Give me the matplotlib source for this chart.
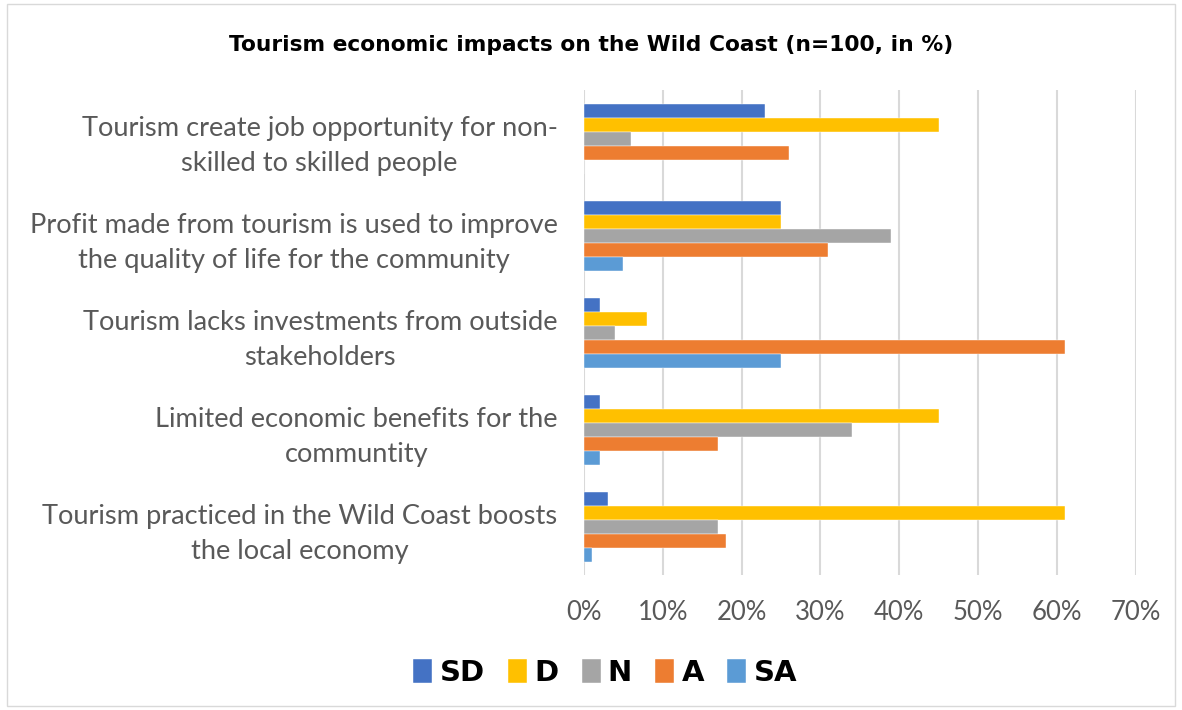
import matplotlib.pyplot as plt
from matplotlib.patches import Rectangle

categories = [
    "Tourism create job opportunity for non-\nskilled to skilled people",
    "Profit made from tourism is used to improve\nthe quality of life for the community",
    "Tourism lacks investments from outside\nstakeholders",
    "Limited economic benefits for the\ncommuntity",
    "Tourism practiced in the Wild Coast boosts\nthe local economy",
]
series_names = ["SD", "D", "N", "A", "SA"]
sd = [23, 25, 2, 2, 3]
d = [45, 25, 8, 45, 61]
n = [6, 39, 4, 34, 17]
a = [26, 31, 61, 17, 18]
sa = [0, 5, 25, 2, 1]
colors = ["#4472c4", "#ffc000", "#a5a5a5", "#ed7d31", "#5b9bd5"]

fig = plt.figure(figsize=(11.82, 7.1), dpi=100)
ax = fig.add_axes([0.494, 0.19, 0.467, 0.683])

series = [sd, d, n, a, sa]
bar_h = 0.144
for j, (name, vals, col) in enumerate(zip(series_names, series, colors)):
    ys = [i + (j - 2) * bar_h for i in range(len(categories))]
    ax.barh(ys, [v / 100 for v in vals], height=bar_h, color=col, label=name,
            edgecolor="white", linewidth=0.3, zorder=3)

ax.set_ylim(len(categories) - 0.5, -0.5)
ax.set_xlim(0, 0.7)
ax.set_xticks([i / 10 for i in range(8)])
ax.set_xticklabels([f"{i * 10}%" for i in range(8)], fontsize=18.5, color="#595959",
                   family="Lato")
ax.set_yticks(range(len(categories)))
ax.set_yticklabels(categories, fontsize=19.6, color="#595959", multialignment="center",
                   family="Lato", linespacing=1.5)
ax.tick_params(axis="both", length=0)
ax.tick_params(axis="x", pad=18)
ax.tick_params(axis="y", pad=19)
ax.grid(axis="x", color="#d9d9d9", linewidth=1.5, zorder=0)
for s in ax.spines.values():
    s.set_visible(False)

fig.text(0.5, 0.937, "Tourism economic impacts on the Wild Coast (n=100, in %)",
         ha="center", va="center", fontsize=15.7, fontweight="bold")

leg = fig.legend(loc="center", bbox_to_anchor=(0.512, 0.052), ncol=5, frameon=False,
                 prop={"size": 21, "weight": "bold"}, handlelength=0.65, handleheight=0.9,
                 handletextpad=0.25, columnspacing=0.8)

fig.patches.append(Rectangle((0.006, 0.005), 0.988, 0.99, transform=fig.transFigure,
                             fill=False, edgecolor="#d9d9d9", linewidth=1))

fig.savefig("out.png", dpi=100)
